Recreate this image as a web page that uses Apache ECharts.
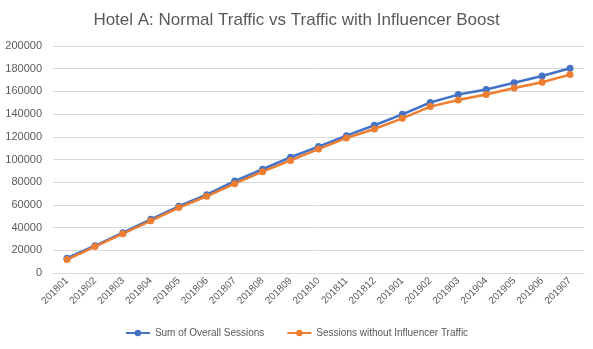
<!DOCTYPE html>
<html><head><meta charset="utf-8">
<script src="https://cdn.jsdelivr.net/npm/echarts@6/dist/echarts.min.js"></script>
<style>html,body{margin:0;padding:0;background:#fff}#c{width:593px;height:349px}</style>
</head><body><div id="c"></div>
<script>
const categories = ['201801','201802','201803','201804','201805','201806','201807','201808','201809','201810','201811','201812','201901','201902','201903','201904','201905','201906','201907'];
const overallSessions = [13000,24000,35500,47300,58800,69000,81000,91400,102000,111400,121000,130200,139800,150200,157200,161600,167600,173600,180400];
const withoutInfluencer = [11800,23300,34600,46000,57600,67600,78700,89300,99200,109200,119000,126900,136300,146600,152500,157200,163000,168000,174800];
const seriesNames = ['Sum of Overall Sessions','Sessions without Influencer Traffic'];
const chart = echarts.init(document.getElementById('c'));
const font = 'Liberation Sans, Arial, sans-serif';
chart.setOption({
  animation:false,
  title:{text:'Hotel A: Normal Traffic vs Traffic with Influencer Boost',left:'center',top:7,
    textStyle:{fontFamily:font,fontSize:17,fontWeight:'normal',color:'#595959'}},
  grid:{left:53,right:9,top:46,bottom:76},
  legend:{bottom:6,itemGap:22,itemWidth:24,itemHeight:8,textStyle:{fontFamily:font,fontSize:10,color:'#595959'},
    data:seriesNames},
  xAxis:{type:'category',data:categories,boundaryGap:true,
    axisLine:{lineStyle:{color:'#d9d9d9'}},axisTick:{show:false},
    axisLabel:{rotate:45,fontFamily:font,fontSize:10,color:'#595959',margin:6,interval:0}},
  yAxis:{type:'value',min:0,max:200000,interval:20000,
    axisLine:{show:false},axisTick:{show:false},
    splitLine:{lineStyle:{color:'#d9d9d9'}},
    axisLabel:{fontFamily:font,fontSize:11,color:'#595959',margin:11,formatter:v=>String(v)}},
  series:[
    {name:seriesNames[0],type:'line',data:overallSessions,symbol:'circle',symbolSize:7,
      lineStyle:{color:'#4472C4',width:2.5},itemStyle:{color:'#4472C4'}},
    {name:seriesNames[1],type:'line',data:withoutInfluencer,symbol:'circle',symbolSize:7,
      lineStyle:{color:'#ED7D31',width:2.5},itemStyle:{color:'#ED7D31'}}
  ]
});
</script></body></html>
